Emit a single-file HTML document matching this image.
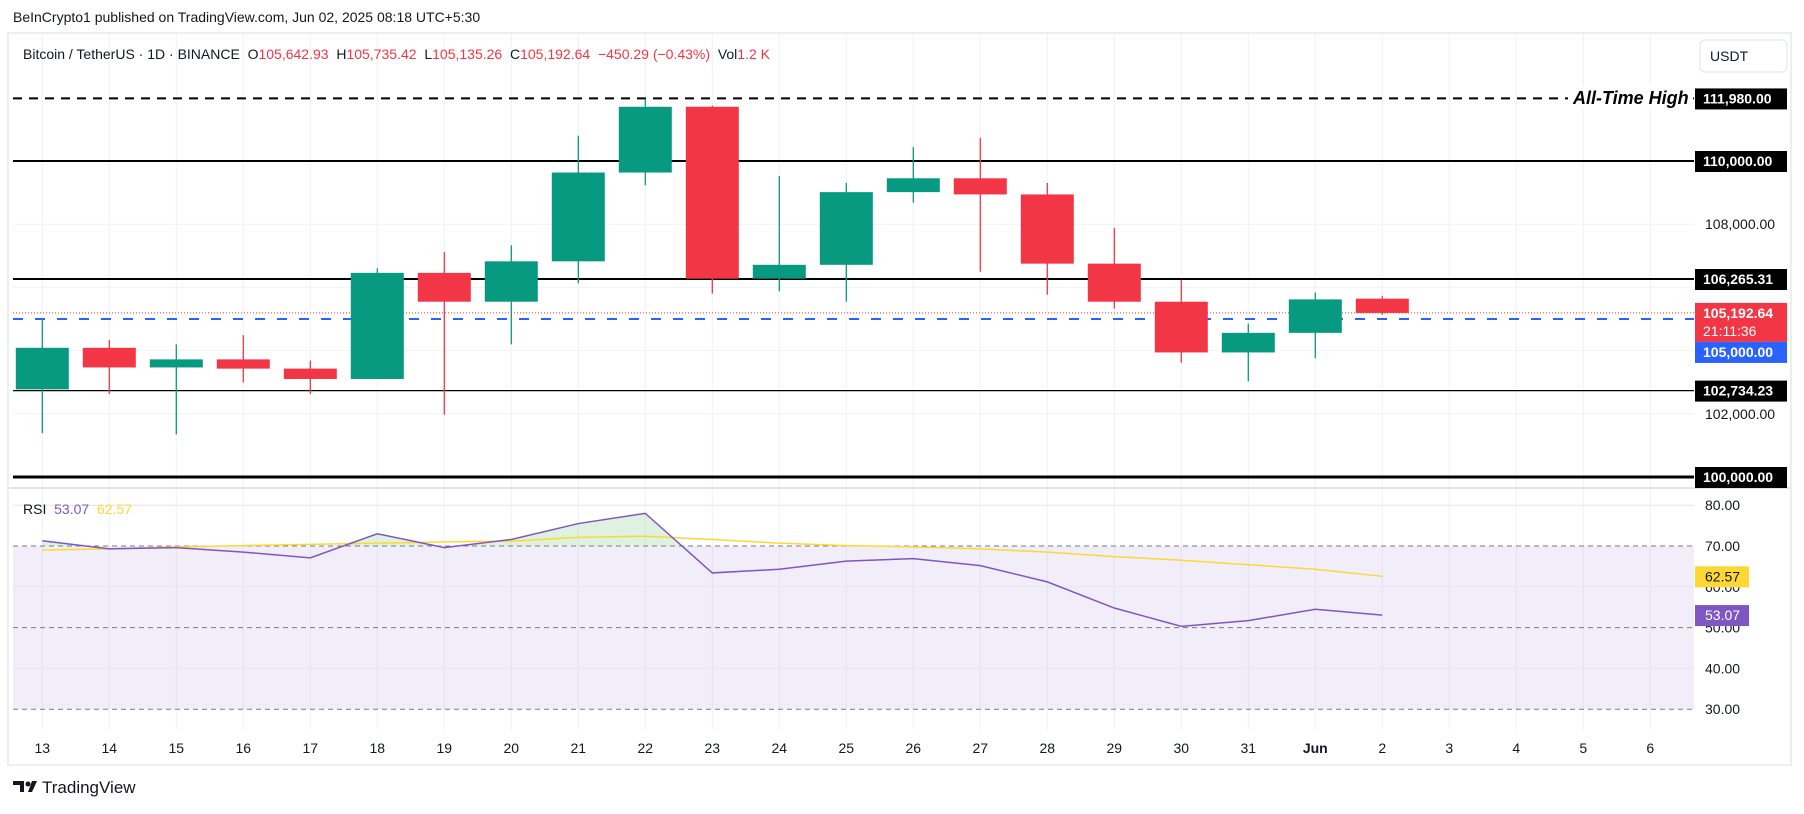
<!DOCTYPE html>
<html><head><meta charset="utf-8"><style>
body{margin:0;background:#fff;width:1804px;height:809px;overflow:hidden;font-family:"Liberation Sans",sans-serif}
svg text{font-family:"Liberation Sans",sans-serif}
</style></head><body>
<svg id="c" width="1804" height="809" xmlns="http://www.w3.org/2000/svg"></svg>
<script>
const days=['13','14','15','16','17','18','19','20','21','22','23','24','25','26','27','28','29','30','31','Jun','2','3','4','5','6'];
const opens=[102774,104088,103467,103722,103430,103102,106460,105547,106825,109635,111715,106277,106715,109015,109453,108942,106752,105547,103942,104562,105642.93];
const highs=[105000,104343,104197,104489,103686,106606,107117,107336,110803,111970,111752,109526,109307,110438,110730,109307,107883,106241,104854,105839,105735.42];
const lows=[101387,102628,101350,102993,102628,103102,101971,104197,106131,109234,105803,105876,105547,108686,106496,105766,105328,103613,103029,103759,105135.26];
const closes=[104088,103467,103722,103430,103102,106460,105547,106825,109635,111715,106277,106715,109015,109453,108942,106752,105547,103942,104562,105620,105192.64];
const rsi=[71.3,69.3,69.6,68.5,67.1,73,69.6,71.6,75.5,78,63.4,64.3,66.3,66.9,65.2,61.2,54.8,50.3,51.7,54.5,53.07];
const rsiMa=[69,69.3,69.8,70.1,70.4,70.7,71,71.2,72.1,72.4,71.6,70.7,70.1,69.8,69.3,68.5,67.4,66.5,65.4,64.3,62.57];
const priceTicks=[102000,104000,106000,108000];
const priceTickLabels=['102,000.00','','','108,000.00'];
const rsiTicks=[80,60,40];
const rsiLabels=['80.00','70.00','60.00','50.00','40.00','30.00'];
const levels=[{p:111980,w:2,dash:'9,7',t:'111,980.00'},{p:110000,w:2,t:'110,000.00'},{p:106265.31,w:2,t:'106,265.31'},{p:102734.23,w:1.3,t:'102,734.23'},{p:100000,w:3,t:'100,000.00'}];

const S='http://www.w3.org/2000/svg',svg=document.getElementById('c');
function el(tag,a,parent){const e=document.createElementNS(S,tag);for(const k in a)e.setAttribute(k,a[k]);(parent||svg).appendChild(e);return e;}
const X=i=>42.3+67*i;
const Y=p=>161+(110000-p)*0.0316;
const R=v=>546-(v-70)*4.08;
const L=13,RT=1694;

// header
let t=el('text',{x:13,y:22,'font-size':14,fill:'#131722'});t.textContent='BeInCrypto1 published on TradingView.com, Jun 02, 2025 08:18 UTC+5:30';

let fr=el('rect',{x:8,y:33,width:1783,height:732,fill:'none',stroke:'#eceef2','stroke-width':2});

// vertical grid
days.forEach((d,i)=>{const g=el('line',{x1:X(i),x2:X(i),y1:34,y2:730,stroke:'#f0f2f6'});
});
priceTicks.forEach((p,i)=>{const g=el('line',{x1:L,x2:RT,y1:Y(p),y2:Y(p),stroke:'#f0f2f6'});

if(priceTickLabels[i]){const tx=el('text',{x:1705,y:Y(p)+5,'font-size':14,fill:'#131722'});tx.textContent=priceTickLabels[i];
}});
// pane separator
el('line',{x1:9,x2:1790,y1:488,y2:488,stroke:'#e0e3eb','stroke-width':2});
// title
const ttl=el('text',{x:23,y:59,'font-size':14,fill:'#131722'});

[['Bitcoin / TetherUS · 1D · BINANCE  ','#131722'],['O','#131722'],['105,642.93  ','#f23645'],['H','#131722'],['105,735.42  ','#f23645'],['L','#131722'],['105,135.26  ','#f23645'],['C','#131722'],['105,192.64  −450.29 (−0.43%)  ','#f23645'],['Vol','#131722'],['1.2 K','#f23645']].forEach(([s,c])=>{const ts=el('tspan',{fill:c},ttl);ts.textContent=s;});
ttl.setAttribute('xml:space','preserve');ttl.style.whiteSpace='pre';
const ub=el('rect',{x:1700,y:40,width:87,height:32,rx:5,fill:'#fff',stroke:'#e0e3eb'});

t=el('text',{x:1710,y:61,'font-size':14,fill:'#131722'});t.textContent='USDT';
// levels
levels.forEach(l=>{const a={x1:L,x2:RT,y1:Y(l.p),y2:Y(l.p),stroke:'#000','stroke-width':l.w};if(l.dash)a['stroke-dasharray']=l.dash;
const ln=el('line',a);
const b=el('rect',{x:1695,y:Y(l.p)-10,width:92,height:21,fill:'#000'});
const tx=el('text',{x:1703,y:Y(l.p)+5,'font-size':14,'font-weight':'bold',fill:'#fff'});tx.textContent=l.t;});
el('rect',{x:1568,y:86,width:124,height:22,fill:'#fff'});
t=el('text',{x:1573,y:104,'font-size':18,'font-style':'italic','font-weight':'bold',fill:'#000'});t.textContent='All-Time High';

// blue and red lines
let bl=el('line',{x1:L,x2:RT,y1:Y(105000),y2:Y(105000),stroke:'#2962ff','stroke-width':2,'stroke-dasharray':'10,12'});

let rl=el('line',{x1:L,x2:RT,y1:Y(closes[closes.length-1]),y2:Y(closes[closes.length-1]),stroke:'#f23645','stroke-dasharray':'1,2'});

// candles
opens.forEach((o,i)=>{const c=closes[i],up=c>=o,col=up?'#089981':'#f23645';
const g=el('g',{});
el('line',{x1:X(i),x2:X(i),y1:Y(highs[i]),y2:Y(lows[i]),stroke:col,'stroke-width':1.3},g);
const top=Y(Math.max(o,c)),bot=Y(Math.min(o,c));
el('rect',{x:X(i)-26.5,y:top,width:53,height:Math.max(1,bot-top),fill:col},g);});
// price labels
const lp=closes[closes.length-1];
let rb=el('rect',{x:1695,y:Y(lp)-10,width:92,height:39,fill:'#f23645'});
t=el('text',{x:1703,y:Y(lp)+5,'font-size':14,'font-weight':'bold',fill:'#fff'});t.textContent='105,192.64';
t=el('text',{x:1703,y:Y(lp)+23,'font-size':14,fill:'#fff'});t.textContent='21:11:36';
let bb=el('rect',{x:1695,y:Y(lp)+29,width:92,height:21,fill:'#2962ff'});
t=el('text',{x:1703,y:Y(lp)+44,'font-size':14,'font-weight':'bold',fill:'#fff'});t.textContent='105,000.00';
// RSI pane
let bg=el('rect',{x:L,y:R(70),width:RT-L,height:R(30)-R(70),fill:'#7e57c2','fill-opacity':0.1});

rsiTicks.forEach(v=>{el('line',{x1:L,x2:RT,y1:R(v),y2:R(v),stroke:'#e6e4ee'});});
[70,50,30].forEach(v=>{const d=el('line',{x1:L,x2:RT,y1:R(v),y2:R(v),stroke:'#787b86','stroke-dasharray':'5,4'});
});
rsiLabels.forEach((s,i)=>{const v=80-i*10;const tx=el('text',{x:1705,y:R(v)+5,'font-size':14,fill:'#131722'});tx.textContent=s;
});
// overbought fill
let fp='';for(let i=0;i<rsi.length-1;i++){const a=rsi[i],b=rsi[i+1];
 if(a>70||b>70){let x1=X(i),x2=X(i+1),y1=a,y2=b;
  if(a<70){x1=X(i)+(70-a)/(b-a)*67;y1=70;} if(b<70){x2=X(i)+(70-a)/(b-a)*67;y2=70;}
  fp+=`M${x1},${R(70)}L${x1},${R(y1)}L${x2},${R(y2)}L${x2},${R(70)}Z`;}}
let ob=el('path',{d:fp,fill:'#4caf50','fill-opacity':0.18});
let mp=el('polyline',{points:rsiMa.map((v,i)=>X(i)+','+R(v)).join(' '),fill:'none',stroke:'#fdd835','stroke-width':1.5});

let rp=el('polyline',{points:rsi.map((v,i)=>X(i)+','+R(v)).join(' '),fill:'none',stroke:'#7e57c2','stroke-width':1.5});

const lr=rsi[rsi.length-1],lm=rsiMa[rsiMa.length-1];
let yb=el('rect',{x:1695,y:R(lm)-10,width:54,height:21,fill:'#fdd835'});
t=el('text',{x:1705,y:R(lm)+5,'font-size':14,fill:'#131722'});t.textContent=lm.toFixed(2);
let pb=el('rect',{x:1695,y:R(lr)-10,width:54,height:21,fill:'#7e57c2'});
t=el('text',{x:1705,y:R(lr)+5,'font-size':14,fill:'#fff'});t.textContent=lr.toFixed(2);
const rl2=el('text',{x:23,y:514,'font-size':14});
[['RSI  ','#131722'],[lr.toFixed(2)+'  ','#7e57c2'],[lm.toFixed(2),'#fdd835']].forEach(([s,c])=>{const ts=el('tspan',{fill:c},rl2);ts.textContent=s;});
rl2.style.whiteSpace='pre';
// x labels
days.forEach((d,i)=>{const tx=el('text',{x:X(i),y:753,'font-size':14,fill:'#131722','text-anchor':'middle','font-weight':d==='Jun'?'bold':'normal'});tx.textContent=d;
});
// footer
let lg=el('g',{});
el('path',{d:'M13,781h11v11h-4v-7h-7z',fill:'#131722'},lg);el('circle',{cx:28,cy:784,r:2.5,fill:'#131722'},lg);el('path',{d:'M32,781h5l-5,11h-4z',fill:'#131722'},lg);
t=el('text',{x:42,y:793,'font-size':17,fill:'#131722'},lg);t.textContent='TradingView';
</script>
</body></html>
